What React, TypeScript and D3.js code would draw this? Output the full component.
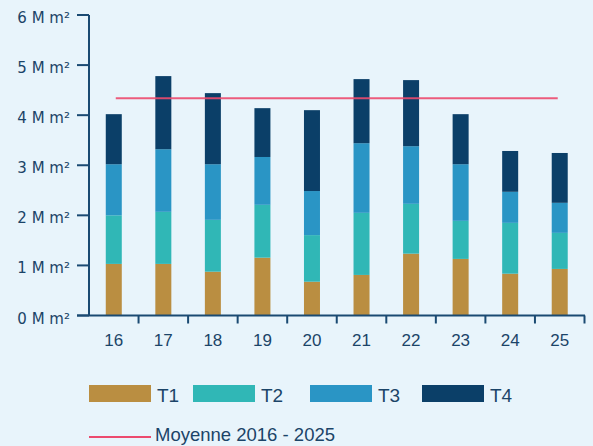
import React from "react";
import * as d3 from "d3";

const categories = ["16", "17", "18", "19", "20", "21", "22", "23", "24", "25"];
const t1 = [1.03, 1.03, 0.875, 1.155, 0.675, 0.81, 1.235, 1.13, 0.835, 0.93];
const t2 = [0.97, 1.04, 1.035, 1.055, 0.93, 1.24, 0.995, 0.76, 1.015, 0.72];
const t3 = [1.02, 1.25, 1.11, 0.955, 0.88, 1.39, 1.15, 1.13, 0.62, 0.6];
const t4 = [1.0, 1.46, 1.42, 0.975, 1.615, 1.28, 1.32, 1.0, 0.815, 0.995];
const seriesNames = ["T1", "T2", "T3", "T4"];
const seriesColors = ["#BA8E41", "#30B7B6", "#2A95C5", "#0B3F68"];
const yTicks = [0, 1, 2, 3, 4, 5, 6];
const average = 4.34;
const averageLabel = "Moyenne 2016 - 2025";

const W = 593;
const H = 446;
const AXIS = "#1A4A72";
const TEXT = "#1B4468";

export default function App() {
  const x = d3
    .scaleBand<string>()
    .domain(categories)
    .range([89, 584.5])
    .paddingInner(0.677)
    .paddingOuter(0.3385);
  const y = d3.scaleLinear().domain([0, 6]).range([315.5, 15]);
  const step = x.step();
  const bw = x.bandwidth();

  const table = categories.map((c, i) => ({ c, T1: t1[i], T2: t2[i], T3: t3[i], T4: t4[i] }));
  const stacked = d3.stack<any>().keys(seriesNames)(table);

  const legendSw = [89, 193, 310, 422];

  return (
    <svg
      width={W}
      height={H}
      style={{ position: "absolute", left: 0, top: 0, background: "#E8F4FB" }}
    >
      <rect x={0} y={0} width={W} height={H} fill="#E8F4FB" />
      {stacked.map((s, si) => (
        <g key={si} fill={seriesColors[si]}>
          {s.map((d, i) => (
            <rect
              key={i}
              x={x(categories[i])}
              y={y(d[1])}
              width={bw}
              height={y(d[0]) - y(d[1])}
            />
          ))}
        </g>
      ))}
      {/* y axis */}
      <line x1={89} x2={89} y1={y(6)} y2={y(0)} stroke={AXIS} strokeWidth={2} />
      {yTicks.map((t) => (
        <g key={t}>
          <line x1={77} x2={89} y1={y(t)} y2={y(t)} stroke={AXIS} strokeWidth={2} />
          <text
            x={70}
            y={y(t) + 8}
            textAnchor="end"
            fontFamily="DejaVu Sans"
            fontSize={15}
            fill={TEXT}
          >
            {`${t} M m²`}
          </text>
        </g>
      ))}
      {/* x axis */}
      <line x1={77} x2={585} y1={y(0)} y2={y(0)} stroke={AXIS} strokeWidth={2} />
      {categories.map((c) => {
        const cx = (x(c) as number) + bw / 2;
        const tx = cx + step / 2;
        return (
          <g key={c}>
            <line x1={tx} x2={tx} y1={y(0)} y2={y(0) + 8} stroke={AXIS} strokeWidth={2} />
            <text
              x={cx}
              y={345.5}
              textAnchor="middle"
              fontFamily="Liberation Sans, Arial"
              fontSize={17}
              fill={TEXT}
            >
              {c}
            </text>
          </g>
        );
      })}
      {/* average line */}
      <line
        x1={(x(categories[0]) as number) + bw / 2 + 2}
        x2={(x(categories[categories.length - 1]) as number) + bw / 2 - 2}
        y1={y(average)}
        y2={y(average)}
        stroke="#EC4A6E"
        strokeOpacity={0.9}
        strokeWidth={2}
      />
      {/* legend */}
      {seriesNames.map((n, i) => (
        <g key={n}>
          <rect x={legendSw[i]} y={385} width={62} height={17} fill={seriesColors[i]} />
          <text
            x={legendSw[i] + 68}
            y={402}
            fontFamily="Liberation Sans, Arial"
            fontSize={19}
            fill={TEXT}
          >
            {n}
          </text>
        </g>
      ))}
      <line x1={89} x2={151} y1={437} y2={437} stroke="#EC4A6E" strokeWidth={2} />
      <text x={155} y={441} fontFamily="Liberation Sans, Arial" fontSize={18.5} fill={TEXT}>
        {averageLabel}
      </text>
    </svg>
  );
}
